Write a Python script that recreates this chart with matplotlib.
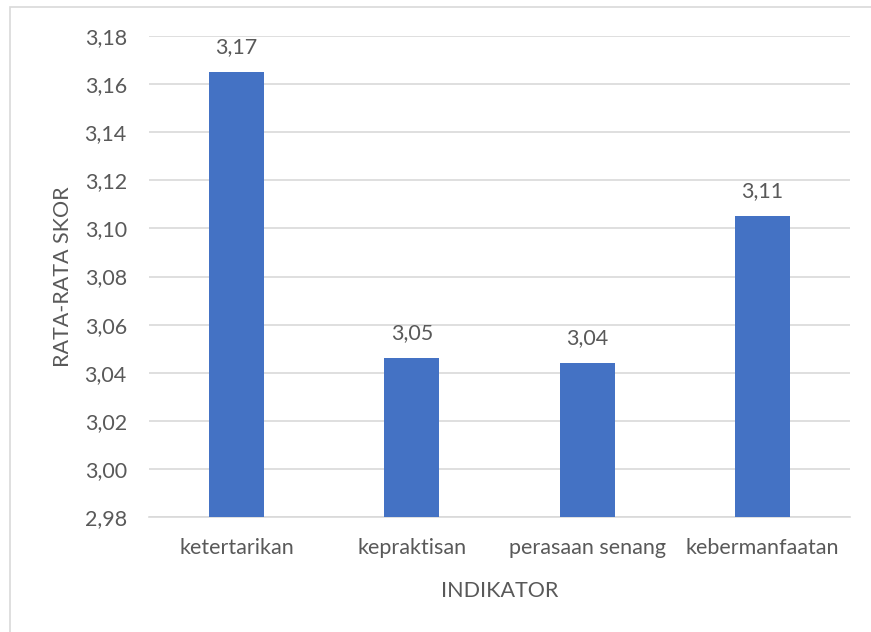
import matplotlib
matplotlib.use("Agg")
import matplotlib.pyplot as plt
from matplotlib.patches import Rectangle

categories = ["ketertarikan", "kepraktisan", "perasaan senang", "kebermanfaatan"]
values = [3.165, 3.046, 3.044, 3.105]
labels = ["3,17", "3,05", "3,04", "3,11"]
yticks = [2.98, 3.00, 3.02, 3.04, 3.06, 3.08, 3.10, 3.12, 3.14, 3.16, 3.18]

plt.rcParams['font.family'] = ['Lato', 'DejaVu Sans']
text_color = '#595959'
grid_color = '#d9d9d9'
fs = 15.5

fig = plt.figure(figsize=(8.71, 6.32), dpi=100)
ax = fig.add_axes([149/871, 1 - 517/632, 701/871, 481/632])

x = list(range(len(categories)))
ax.bar(x, values, width=0.314, color='#4472c4', zorder=3)

for xi, v, lab in zip(x, values, labels):
	ax.annotate(lab, (xi, v), xytext=(0, 11), textcoords='offset points',
		ha='center', va='bottom', fontsize=fs, color=text_color)

ax.set_xlim(-0.5, len(categories) - 0.5)
ax.set_ylim(2.98, 3.18)
ax.set_yticks(yticks)
ax.set_yticklabels([("%.2f" % t).replace(".", ",") for t in yticks])
ax.set_xticks(x)
ax.set_xticklabels(categories)
ax.tick_params(axis='both', length=0, labelsize=fs, colors=text_color)
ax.tick_params(axis='y', pad=16)
ax.tick_params(axis='x', pad=15)

ax.yaxis.grid(True, color=grid_color, linewidth=1.2, zorder=0)
for s in ['left', 'right', 'top']:
	ax.spines[s].set_visible(False)
ax.spines['bottom'].set_color(grid_color)
ax.spines['bottom'].set_linewidth(1.2)

ax.set_xlabel("INDIKATOR", fontsize=fs, color=text_color, labelpad=17)
ax.set_ylabel("RATA-RATA SKOR", fontsize=fs, color=text_color, labelpad=8)

# light frame round the chart area
fig.patches.append(Rectangle((10/871, -0.01), 1.0, 1 - 7/632 + 0.01, transform=fig.transFigure,
	fill=False, edgecolor=grid_color, linewidth=1.2))

fig.savefig("out.png", dpi=100)
